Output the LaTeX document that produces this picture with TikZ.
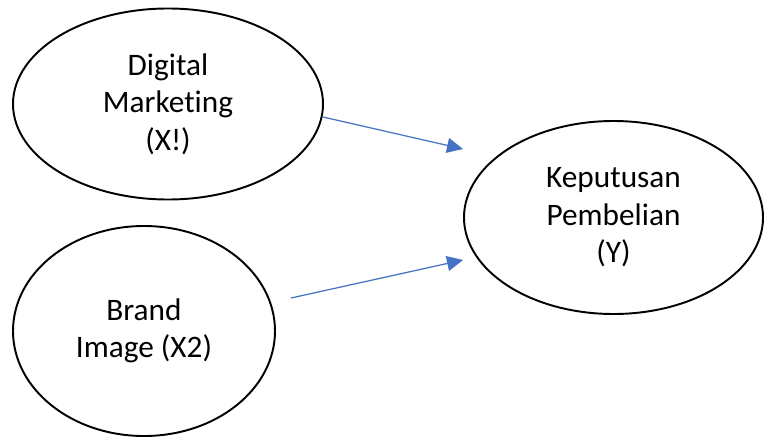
\documentclass[tikz,border=0pt]{standalone}
\usepackage{fontspec}
\setmainfont{Carlito}[Ligatures=NoCommon]
\usepackage{tikz}
\usetikzlibrary{shapes.geometric,arrows.meta}
\definecolor{linkblue}{HTML}{4472C4}

\begin{document}
\begin{tikzpicture}[
  var/.style={shape=ellipse,draw,line width=1.1pt,align=center,
    font=\fontsize{17.8}{21.3}\selectfont},
  link/.style={draw=linkblue,line width=0.7pt,
    -{Triangle[length=0.32cm,width=0.3cm,fill=linkblue]}}]
\useasboundingbox (0,0) rectangle (15.3,8.82);

\path (3.36,6.74) node (dm) [var,minimum width=6.2cm,minimum height=3.82cm] {Digital\\Marketing\\(X!)};
\path (2.88,2.2) node (bi) [var,minimum width=5.24cm,minimum height=4.2cm] {Brand\\Image (X2)};
\path (12.27,4.47) node (kp) [var,minimum width=5.98cm,minimum height=3.86cm] {Keputusan\\Pembelian\\(Y)};

% free ends of the arrows
\coordinate (dmout) at (6.46,6.48);
\coordinate (kpin1) at (9.26,5.84);
\coordinate (biout) at (5.82,2.86);
\coordinate (kpin2) at (9.26,3.62);

\draw [link] (dmout) to (kpin1);
\draw [link] (biout) to (kpin2);

\end{tikzpicture}
\end{document}
